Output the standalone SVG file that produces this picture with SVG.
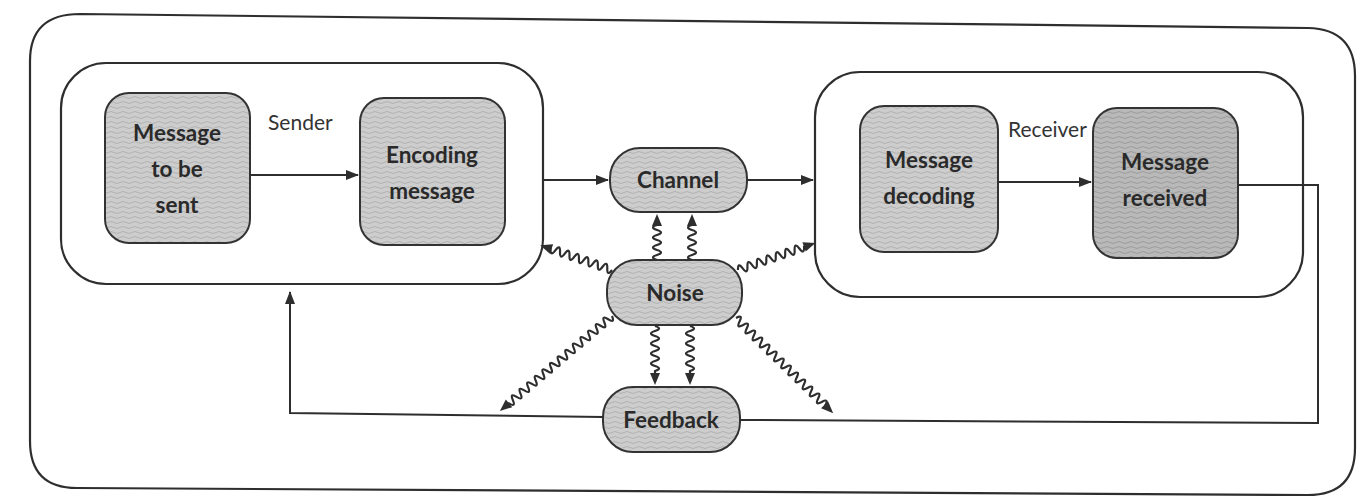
<svg xmlns="http://www.w3.org/2000/svg" width="1363" height="500" viewBox="0 0 1363 500">
<style>
.frame{fill:none;stroke:#2e2e2e;stroke-width:2.2}
.box{fill:url(#tex);stroke:#333;stroke-width:2}
.dark{fill:url(#texd);stroke:#333;stroke-width:2}
.t{font-family:Lato,"Open Sans",sans-serif;font-size:22.5px;font-weight:700;fill:#2a2a2a;text-anchor:middle}
.lbl{font-family:Lato,"Open Sans",sans-serif;font-size:21px;fill:#333}
.ln{fill:none;stroke:#2e2e2e;stroke-width:2}
.wv{fill:none;stroke:#2e2e2e;stroke-width:2.2}
.hd{fill:#2e2e2e}
</style>
<defs>
<pattern id="tex" width="12" height="5" patternUnits="userSpaceOnUse">
<rect width="12" height="5" fill="#cdcdcd"/>
<path d="M0,2.5 q3,-2 6,0 t6,0" fill="none" stroke="#b2b2b2" stroke-width="1"/>
</pattern>
<pattern id="texd" width="12" height="5" patternUnits="userSpaceOnUse">
<rect width="12" height="5" fill="#b9b9b9"/>
<path d="M0,2.5 q3,-2 6,0 t6,0" fill="none" stroke="#9c9c9c" stroke-width="1"/>
</pattern>
<marker id="ah" markerWidth="13" markerHeight="10" refX="12" refY="5" orient="auto" markerUnits="userSpaceOnUse">
<path d="M0,0 L13,5 L0,10 Z" fill="#2e2e2e"/>
</marker>
</defs>

<path class="frame" d="M80,14 L1308,28 Q1355,29 1355,76 L1355,448 Q1355,495 1308,495 L77,488 Q30,488 30,441 L30,61 Q30,14 80,14 Z"/>

<g id="sender">
<rect class="frame" x="61" y="63" width="482" height="221" rx="45"/>
<text class="lbl" x="268" y="130">Sender</text>
</g>
<g id="receiver">
<rect class="frame" x="815" y="72" width="488" height="225" rx="45"/>
<text class="lbl" x="1008" y="137">Receiver</text>
</g>

<g id="msg-to-send">
<rect class="box" x="105" y="93" width="145" height="150" rx="24"/>
<text class="t" x="177" y="141">Message</text>
<text class="t" x="177" y="177">to be</text>
<text class="t" x="177" y="213">sent</text>
</g>
<g id="encoding">
<rect class="box" x="360" y="98" width="145" height="147" rx="24"/>
<text class="t" x="432" y="163">Encoding</text>
<text class="t" x="432" y="199">message</text>
</g>
<g id="decoding">
<rect class="box" x="860" y="106" width="138" height="146" rx="24"/>
<text class="t" x="929" y="168">Message</text>
<text class="t" x="929" y="204">decoding</text>
</g>
<g id="received">
<rect class="dark" x="1093" y="108" width="145" height="150" rx="24"/>
<text class="t" x="1165" y="170">Message</text>
<text class="t" x="1165" y="206">received</text>
</g>
<g id="channel">
<rect class="box" x="610" y="148" width="137" height="64" rx="30"/>
<text class="t" x="678" y="188">Channel</text>
</g>
<g id="noise">
<rect class="box" x="607" y="260" width="135" height="65" rx="30"/>
<text class="t" x="675" y="301">Noise</text>
</g>
<g id="feedback">
<rect class="box" x="603" y="387" width="137" height="65" rx="30"/>
<text class="t" x="671" y="428">Feedback</text>
</g>

<g id="connectors">
<line class="ln" x1="250" y1="175" x2="358" y2="175" marker-end="url(#ah)"/>
<line class="ln" x1="543" y1="180" x2="608" y2="180" marker-end="url(#ah)"/>
<line class="ln" x1="747" y1="180" x2="813" y2="180" marker-end="url(#ah)"/>
<line class="ln" x1="998" y1="182" x2="1091" y2="182" marker-end="url(#ah)"/>
<polyline class="ln" points="1238,185 1318,185 1318,423 740,420"/>
<polyline class="ln" points="603,417 290,413 290,292" marker-end="url(#ah)"/>

<g transform="translate(657,260) rotate(-90)">
<path class="wv" d="M0,0 q2.5,-8 5,0 t5,0 t5,0 t5,0 t5,0 t5,0 t5,0 l1,0"/>
<path class="hd" d="M46,0 L34,-5 L34,5 Z"/>
</g>
<g transform="translate(692,260) rotate(-90)">
<path class="wv" d="M0,0 q2.5,-8 5,0 t5,0 t5,0 t5,0 t5,0 t5,0 t5,0 l1,0"/>
<path class="hd" d="M46,0 L34,-5 L34,5 Z"/>
</g>
<g transform="translate(612,270) rotate(-160.9)">
<path class="wv" d="M0,0 q2.5,-8 5,0 t5,0 t5,0 t5,0 t5,0 t5,0 t5,0 t5,0 t5,0 t5,0 t5,0 t5,0 t5,0 l1,0"/>
<path class="hd" d="M76,0 L64,-5 L64,5 Z"/>
</g>
<g transform="translate(738,270) rotate(-19.3)">
<path class="wv" d="M0,0 q2.5,-8 5,0 t5,0 t5,0 t5,0 t5,0 t5,0 t5,0 t5,0 t5,0 t5,0 t5,0 t5,0 t5,0 t5,0 l2,0"/>
<path class="hd" d="M82,0 L70,-5 L70,5 Z"/>
</g>
<g transform="translate(655,326) rotate(90)">
<path class="wv" d="M0,0 q2.5,-8 5,0 t5,0 t5,0 t5,0 t5,0 t5,0 t5,0 t5,0 t5,0 l4,0"/>
<path class="hd" d="M59,0 L47,-5 L47,5 Z"/>
</g>
<g transform="translate(690,326) rotate(90)">
<path class="wv" d="M0,0 q2.5,-8 5,0 t5,0 t5,0 t5,0 t5,0 t5,0 t5,0 t5,0 t5,0 l4,0"/>
<path class="hd" d="M59,0 L47,-5 L47,5 Z"/>
</g>
<g transform="translate(612,316) rotate(139.7)">
<path class="wv" d="M0,0 q2.5,-8 5,0 t5,0 t5,0 t5,0 t5,0 t5,0 t5,0 t5,0 t5,0 t5,0 t5,0 t5,0 t5,0 t5,0 t5,0 t5,0 t5,0 t5,0 t5,0 t5,0 t5,0 t5,0 t5,0 t5,0 t5,0 t5,0 t5,0 l2,0"/>
<path class="hd" d="M147,0 L135,-5 L135,5 Z"/>
</g>
<g transform="translate(736,318) rotate(44.4)">
<path class="wv" d="M0,0 q2.5,-8 5,0 t5,0 t5,0 t5,0 t5,0 t5,0 t5,0 t5,0 t5,0 t5,0 t5,0 t5,0 t5,0 t5,0 t5,0 t5,0 t5,0 t5,0 t5,0 t5,0 t5,0 t5,0 t5,0 t5,0 t5,0 l1,0"/>
<path class="hd" d="M136,0 L124,-5 L124,5 Z"/>
</g>
</g>
</svg>
